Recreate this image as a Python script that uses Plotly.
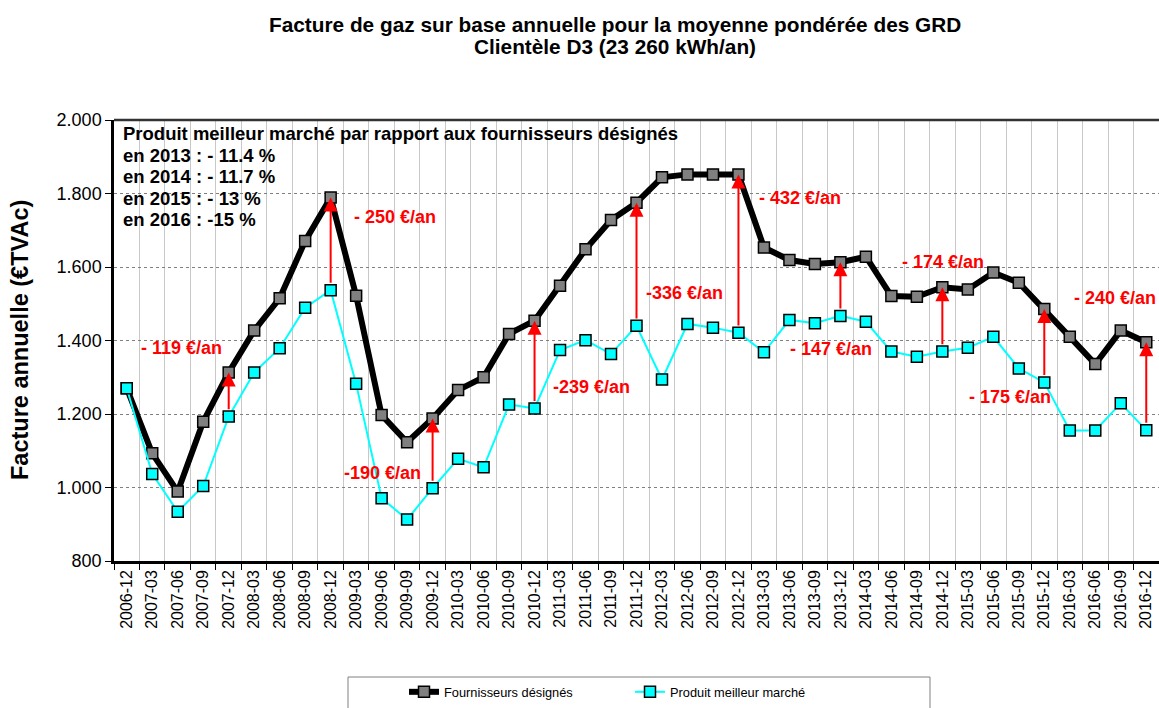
import plotly.graph_objects as go

periods = ["2006-12", "2007-03", "2007-06", "2007-09", "2007-12", "2008-03", "2008-06", "2008-09",
           "2008-12", "2009-03", "2009-06", "2009-09", "2009-12", "2010-03", "2010-06", "2010-09",
           "2010-12", "2011-03", "2011-06", "2011-09", "2011-12", "2012-03", "2012-06", "2012-09",
           "2012-12", "2013-03", "2013-06", "2013-09", "2013-12", "2014-03", "2014-06", "2014-09",
           "2014-12", "2015-03", "2015-06", "2015-09", "2015-12", "2016-03", "2016-06", "2016-09",
           "2016-12"]

fournisseurs = [1270, 1093, 989, 1179, 1313, 1427, 1515, 1671, 1789, 1522, 1197, 1123, 1188, 1265, 1300,
                1418, 1454, 1549, 1648, 1728, 1775, 1844, 1852, 1852, 1852, 1653, 1619, 1608, 1613,
                1628, 1521, 1519, 1545, 1539, 1585, 1557, 1486, 1410, 1336, 1427, 1395]

meilleur = [1270, 1037, 934, 1004, 1193, 1313, 1379, 1489, 1537, 1282, 971, 913, 998, 1078, 1055,
            1226, 1215, 1374, 1401, 1363, 1440, 1294, 1445, 1435, 1421, 1368, 1456, 1447, 1467,
            1451, 1370, 1356, 1370, 1380, 1410, 1324, 1286, 1155, 1155, 1229, 1156]

arrow_periods = ["2007-12", "2008-12", "2009-12", "2010-12", "2011-12", "2012-12", "2013-12",
                 "2014-12", "2015-12", "2016-12"]

gap_labels = ["- 119 €/an", "- 250 €/an", "-190 €/an", "-239 €/an", "-336 €/an", "- 432 €/an",
              "- 147 €/an", "- 174 €/an", "- 175 €/an", "- 240 €/an"]
# label placement (category index, y value)
gap_label_pos = [(2.16, 1379), (10.54, 1737), (10.05, 1040), (18.23, 1274), (21.88, 1528),
                 (26.4, 1787), (27.62, 1377), (32.01, 1613), (34.67, 1245), (38.78, 1515)]

info_lines = ["Produit meilleur marché par rapport aux fournisseurs désignés",
              "en 2013 : - 11.4 %", "en 2014 : - 11.7 %", "en 2015 : - 13 %", "en 2016 : -15 %"]

title_lines = ["Facture de gaz sur base annuelle pour la moyenne pondérée des GRD",
               "Clientèle D3 (23 260 kWh/an)"]
y_title = "Facture annuelle (€TVAc)"

FONT = "Liberation Sans, Arial, sans-serif"
W, H = 1159, 708
ML, MR, MT, MB = 114, 0, 120, 147
PW, PH = W - ML - MR, H - MT - MB


def px_to_paper_x(px):
    return (px - ML) / PW


def px_to_paper_y(py):
    return (H - MB - py) / PH


fig = go.Figure()
fig.add_trace(go.Scatter(
    x=periods, y=fournisseurs, mode="lines+markers", name="Fournisseurs désignés",
    line=dict(color="black", width=6),
    marker=dict(symbol="square", size=11, color="#808080", line=dict(color="black", width=1.5)),
    legend="legend",
))
fig.add_trace(go.Scatter(
    x=periods, y=meilleur, mode="lines+markers", name="Produit meilleur marché",
    line=dict(color="#00FFFF", width=2),
    marker=dict(symbol="square", size=11, color="#00FFFF", line=dict(color="black", width=1.5)),
    legend="legend2",
))

annotations = []
# red arrows
for p in arrow_periods:
    i = periods.index(p)
    annotations.append(dict(
        x=i, y=fournisseurs[i], ax=i, ay=meilleur[i] + 16,
        xref="x", yref="y", axref="x", ayref="y",
        showarrow=True, arrowhead=2, arrowsize=1.4, arrowwidth=2, arrowcolor="#FF0000",
        text="",
    ))
# gap labels
for lab, (xi, yv) in zip(gap_labels, gap_label_pos):
    annotations.append(dict(
        x=xi, y=yv, xref="x", yref="y", text=lab, showarrow=False,
        font=dict(family=FONT, size=18, color="#FF0000", weight="bold"),
        xanchor="center", yanchor="middle",
    ))
# info box lines
info_y_px = [133.3, 155.3, 176.7, 198.3, 219.0]
for txt, ypx in zip(info_lines, info_y_px):
    annotations.append(dict(
        x=px_to_paper_x(121), y=px_to_paper_y(ypx), xref="paper", yref="paper",
        text=txt, showarrow=False, xanchor="left", yanchor="middle",
        font=dict(family=FONT, size=18.5, color="black", weight="bold"),
    ))
# title
for txt, ypx in zip(title_lines, [25, 47]):
    annotations.append(dict(
        x=px_to_paper_x(615), y=px_to_paper_y(ypx), xref="paper", yref="paper",
        text=txt, showarrow=False, xanchor="center", yanchor="middle",
        font=dict(family=FONT, size=20.8, color="black", weight="bold"),
    ))
# y axis title
annotations.append(dict(
    x=px_to_paper_x(20), y=px_to_paper_y(340), xref="paper", yref="paper",
    text=y_title, showarrow=False, textangle=-90, xanchor="center", yanchor="middle",
    font=dict(family=FONT, size=23.5, color="black", weight="bold"),
))

shapes = [
    # top border of plot area
    dict(type="line", xref="paper", yref="paper", x0=0, x1=1, y0=1, y1=1,
         line=dict(color="#333333", width=2.5)),
    # legend frame
    dict(type="rect", xref="paper", yref="paper",
         x0=px_to_paper_x(348), x1=px_to_paper_x(930),
         y0=px_to_paper_y(677), y1=px_to_paper_y(730),
         line=dict(color="#808080", width=1), fillcolor="rgba(0,0,0,0)"),
]

fig.update_layout(
    width=W, height=H,
    margin=dict(l=ML, r=MR, t=MT, b=MB, autoexpand=False),
    paper_bgcolor="white", plot_bgcolor="white",
    font=dict(family=FONT, color="black"),
    separators=",.",
    showlegend=True,
    legend=dict(x=px_to_paper_x(404), y=px_to_paper_y(692), xanchor="left", yanchor="middle",
                bgcolor="rgba(0,0,0,0)", borderwidth=0, font=dict(family=FONT, size=12.8)),
    legend2=dict(x=px_to_paper_x(630), y=px_to_paper_y(692), xanchor="left", yanchor="middle",
                 bgcolor="rgba(0,0,0,0)", borderwidth=0, font=dict(family=FONT, size=12.8)),
    annotations=annotations,
    shapes=shapes,
)

fig.update_xaxes(
    type="category", range=[-0.5, len(periods) - 0.5],
    tickson="boundaries", ticks="outside", ticklen=6, tickcolor="black", tickwidth=1,
    tickangle=-90, tickfont=dict(family=FONT, size=16, color="black"),
    showgrid=True, gridcolor="#C8C8C8", gridwidth=1,
    showline=True, linecolor="black", linewidth=2.5,
    automargin=False, zeroline=False,
)
fig.update_yaxes(
    range=[800, 2000], dtick=200, tick0=800, tickformat=",d",
    ticks="outside", ticklen=6, tickcolor="black", tickwidth=1,
    tickfont=dict(family=FONT, size=18, color="black"),
    showgrid=True, gridcolor="#808080", gridwidth=1, griddash="dot",
    showline=True, linecolor="black", linewidth=2.5,
    automargin=False, zeroline=False,
)

fig.write_html(
    "out.html",
    config={"displayModeBar": False},
    post_script="document.body.style.margin='0';document.body.style.overflow='hidden';",
)
